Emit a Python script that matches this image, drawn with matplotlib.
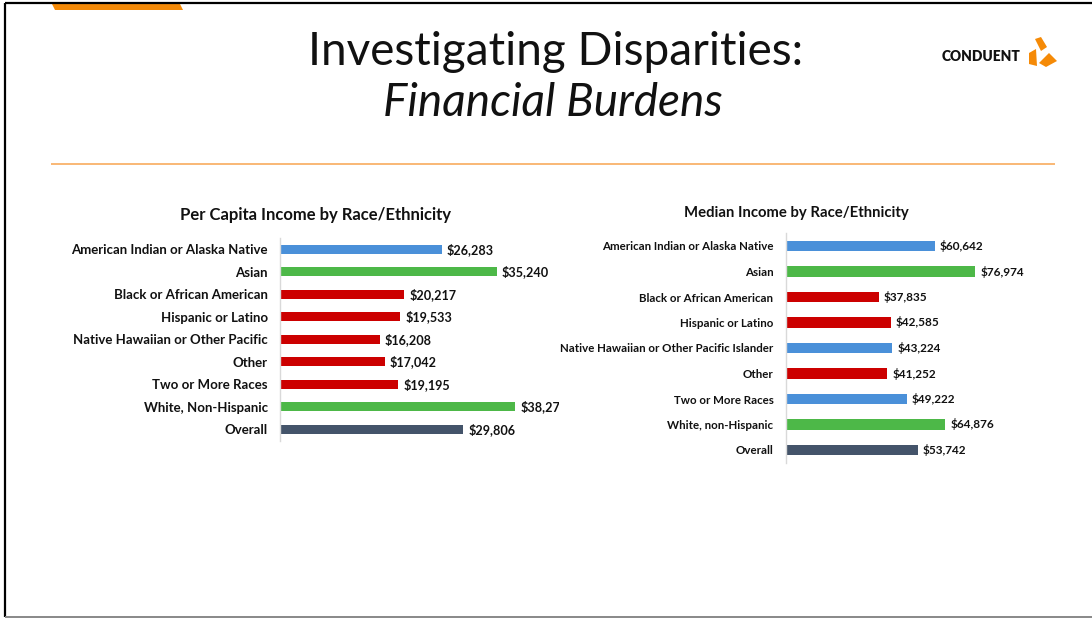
import matplotlib
matplotlib.use("Agg")
import matplotlib.pyplot as plt
from matplotlib.patches import Polygon

# ---- data ----
pc_categories = ["American Indian or Alaska Native", "Asian", "Black or African American",
                 "Hispanic or Latino", "Native Hawaiian or Other Pacific", "Other",
                 "Two or More Races", "White, Non-Hispanic", "Overall"]
pc_values = [26283, 35240, 20217, 19533, 16208, 17042, 19195, 38276, 29806]
pc_colors = ["#4A90D9", "#4DB848", "#CC0000", "#CC0000", "#CC0000", "#CC0000",
             "#CC0000", "#4DB848", "#44546A"]

med_categories = ["American Indian or Alaska Native", "Asian", "Black or African American",
                  "Hispanic or Latino", "Native Hawaiian or Other Pacific Islander", "Other",
                  "Two or More Races", "White, non-Hispanic", "Overall"]
med_values = [60642, 76974, 37835, 42585, 43224, 41252, 49222, 64876, 53742]
med_colors = ["#4A90D9", "#4DB848", "#CC0000", "#CC0000", "#4A90D9", "#CC0000",
              "#4A90D9", "#4DB848", "#44546A"]

W, H = 1092, 619
FONT = "Lato"

fig = plt.figure(figsize=(W / 100, H / 100), dpi=100)
fig.patch.set_facecolor("white")


def px_axes(x0, y0, x1, y1):
    """Axes placed by pixel box (top-left origin)."""
    return fig.add_axes([x0 / W, 1 - y1 / H, (x1 - x0) / W, (y1 - y0) / H])


# ---- slide decoration layer ----
deco = fig.add_axes([0, 0, 1, 1])
deco.set_xlim(0, W)
deco.set_ylim(H, 0)
deco.axis("off")
deco.plot([5, W], [3, 3], color="black", lw=1.6, solid_capstyle="butt")
deco.plot([5, 5], [3, 617], color="black", lw=1.6, solid_capstyle="butt")
deco.plot([5, W], [617, 617], color="#888888", lw=1.4, solid_capstyle="butt")
deco.add_patch(Polygon([(52, 4), (180, 4), (183, 10), (55, 10)], closed=True,
                       color="#F58A07", lw=0))
deco.plot([51, 1055], [164, 164], color="#F9B26A", lw=1.3, solid_capstyle="butt")

deco.text(556, 65, "Investigating Disparities:", ha="center", va="baseline",
          fontsize=33, family=FONT, color="#111111")
deco.text(553, 116, "Financial Burdens", ha="center", va="baseline",
          fontsize=33, family=FONT, style="italic", color="#111111")

# logo
deco.text(1020, 61, "CONDUENT", ha="right", va="baseline", fontsize=9.9,
          family=FONT, weight="heavy", color="#111111")
for pts in ([(1035, 39), (1041, 37), (1047, 47), (1041, 51)],
            [(1029, 53), (1036, 49), (1037, 66), (1029, 64)],
            [(1039, 63), (1049, 53), (1057, 61), (1046, 67)]):
    deco.add_patch(Polygon(pts, closed=True, color="#F58A07", lw=0))


def bar_panel(ax, cats, vals, cols, xmax, title, title_xy, label_size, value_size,
              title_size):
    ypos = list(range(len(cats)))
    ax.barh(ypos, vals, height=0.4, color=cols, zorder=2)
    ax.set_xlim(0, xmax)
    ax.set_ylim(len(cats) - 0.5, -0.5)
    ax.set_yticks(ypos)
    ax.set_yticklabels(cats, fontsize=label_size, family=FONT, weight="bold",
                       color="#111111")
    ax.tick_params(axis="y", length=0, pad=8.8)
    ax.set_xticks([])
    ax.patch.set_alpha(0)
    for side in ("top", "right", "bottom"):
        ax.spines[side].set_visible(False)
    ax.spines["left"].set_color("#D9D9D9")
    ax.spines["left"].set_linewidth(1.0)
    for y, v in zip(ypos, vals):
        ax.annotate(f"${v:,}", xy=(v, y), xytext=(3.6, 0), textcoords="offset points",
                    ha="left", va="center", fontsize=value_size, family=FONT,
                    weight="bold", color="#111111", annotation_clip=False,
                    clip_on=True)
    deco.text(title_xy[0], title_xy[1], title, ha="center", va="center",
              fontsize=title_size, family=FONT, weight="bold", color="#111111")


ax1 = px_axes(280, 238, 559, 440.5)
bar_panel(ax1, pc_categories, pc_values, pc_colors, 45360,
          "Per Capita Income by Race/Ethnicity", (315, 215), 9.5, 9.1, 12.0)

ax2 = px_axes(785.7, 233.25, 1056.5, 462.75)
bar_panel(ax2, med_categories, med_values, med_colors, 110000,
          "Median Income by Race/Ethnicity", (796, 213), 8.3, 8.5, 10.7)

fig.savefig("out.png", dpi=100)
